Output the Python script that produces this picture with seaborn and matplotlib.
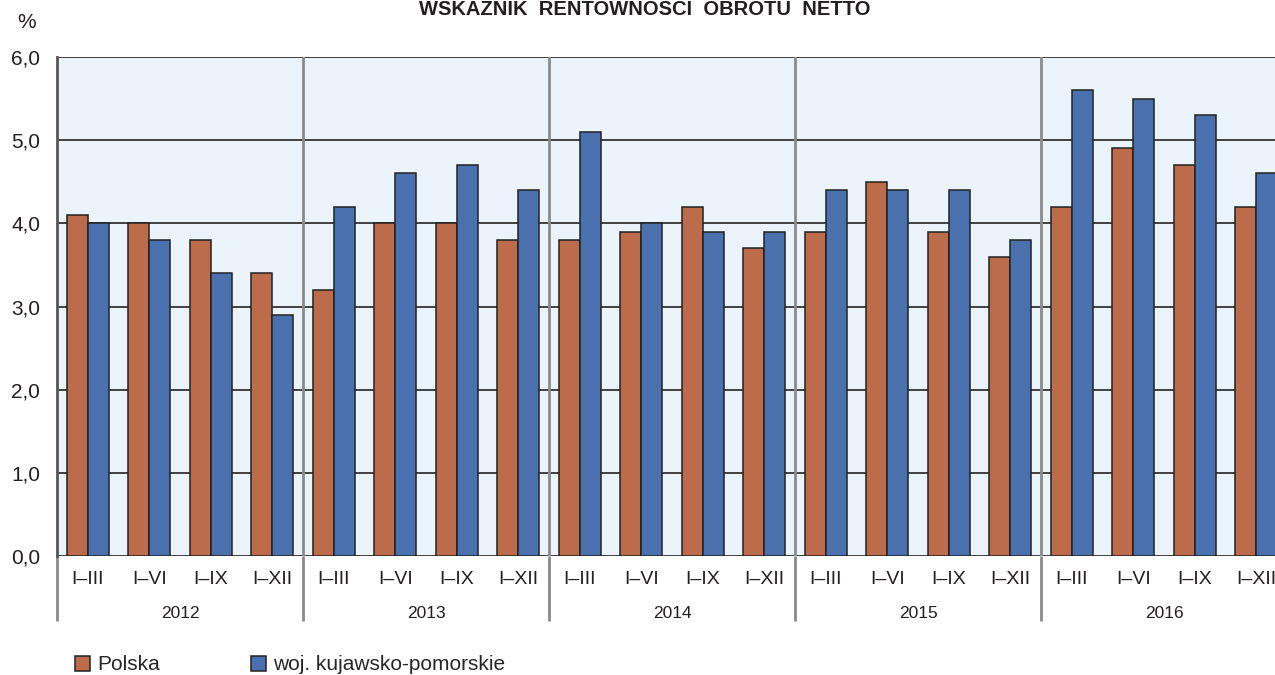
import numpy as np
import pandas as pd
import matplotlib
matplotlib.use("Agg")
import matplotlib.pyplot as plt
import seaborn as sns

# ---------------- DATA ---------------- #
years = ["2012", "2013", "2014", "2015", "2016"]
periods = ["I–III", "I–VI", "I–IX", "I–XII"]
polska = [4.1, 4.0, 3.8, 3.4,
          3.2, 4.0, 4.0, 3.8,
          3.8, 3.9, 4.2, 3.7,
          3.9, 4.5, 3.9, 3.6,
          4.2, 4.9, 4.7, 4.2]
kujawsko = [4.0, 3.8, 3.4, 2.9,
            4.2, 4.6, 4.7, 4.4,
            5.1, 4.0, 3.9, 3.9,
            4.4, 4.4, 4.4, 3.8,
            5.6, 5.5, 5.3, 4.6]
series_names = ["Polska", "woj. kujawsko-pomorskie"]
colors = ["#BC6C4B", "#4B70AE"]
title = "WSKAŹNIK  RENTOWNOŚCI  OBROTU  NETTO"

slots = [f"{y} {p}" for y in years for p in periods]
df = pd.DataFrame({
    "slot": slots * 2,
    "value": polska + kujawsko,
    "series": [series_names[0]] * len(slots) + [series_names[1]] * len(slots),
})

# ---------------- STYLE ---------------- #
sns.set_style("white")
plt.rcParams["font.family"] = ["Liberation Sans", "DejaVu Sans"]

fig = plt.figure(figsize=(12.75, 6.75), dpi=100)
# axes runs a little past the right edge, like the cropped original
ax = fig.add_axes([57 / 1275, 1 - 556 / 675, 1230 / 1275, 499 / 675])
ax.set_facecolor("#EBF4FA")

sns.barplot(data=df, x="slot", y="value", hue="series", order=slots,
            hue_order=series_names, palette=colors, width=0.68,
            edgecolor="#222222", linewidth=1.1, saturation=1, ax=ax, zorder=3)

handles, labels = ax.get_legend_handles_labels()
ax.get_legend().remove()

n = len(slots)
ax.set_xlim(-0.5, n - 0.5)
ax.set_ylim(0, 6)

# ---------------- GRID / SEPARATORS ---------------- #
for v in range(0, 7):
    ax.axhline(v, color="#333333", lw=1.3, zorder=1)

year_bounds = np.arange(len(periods), n, len(periods)) - 0.5
for b in year_bounds:
    ax.axvline(b, color="#8A8A8A", lw=2, zorder=2)

# long lines under the axis at year boundaries
ax.vlines(np.r_[-0.5, year_bounds], 0, -0.13, transform=ax.get_xaxis_transform(),
          color="#8A8A8A", lw=2, clip_on=False)

for s in ["top", "right", "bottom"]:
    ax.spines[s].set_visible(False)
ax.spines["left"].set_color("#555555")
ax.spines["left"].set_linewidth(2)

# ---------------- TICKS ---------------- #
ax.set_yticks(range(0, 7))
ax.set_yticklabels([f"{v:.1f}".replace(".", ",") for v in range(0, 7)], fontsize=15,
                   color="#231F20")
ax.tick_params(axis="y", length=9, width=1.2, color="#333333", pad=3)

ax.set_xticks(range(n))
ax.set_xticklabels(periods * len(years), fontsize=14, color="#231F20")
ax.tick_params(axis="x", which="major", length=0, pad=11)
ax.set_xticks(np.arange(0.5, n - 0.5), minor=True)
ax.tick_params(axis="x", which="minor", length=10, width=1.5, color="#8A8A8A")
ax.set_xlabel("")
ax.set_ylabel("")

for i, y in enumerate(years):
    ax.text(i * len(periods) + (len(periods) - 1) / 2, -0.115, y,
            transform=ax.get_xaxis_transform(), ha="center", va="center",
            fontsize=12.5, color="#231F20")

# ---------------- TEXTS ---------------- #
fig.text(645 / 1275, 1, title, ha="center", va="top",
         fontsize=14.5, fontweight="bold", color="#231F20")
fig.text(27 / 1275, 1 - 22 / 675, "%", ha="center", va="center",
         fontsize=15, color="#231F20")

fig.legend(handles, labels, loc="center left", bbox_to_anchor=(75 / 1275, 1 - 665 / 675),
           ncol=2, frameon=False, fontsize=15, handlelength=0.72, handleheight=0.72,
           handletextpad=0.35, columnspacing=4.35, borderaxespad=0, borderpad=0)

fig.savefig("out.png", dpi=100)
